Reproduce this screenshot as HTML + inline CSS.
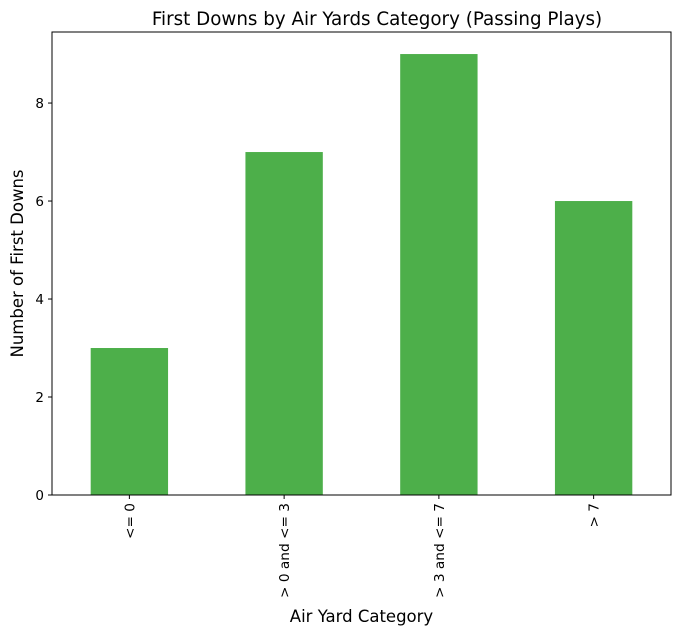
<!DOCTYPE html>
<html><head><meta charset="utf-8"><style>
body{margin:0;background:#fff;font-family:"DejaVu Sans","Liberation Sans",sans-serif}
</style></head><body>
<svg id="chart" width="682" height="634" xmlns="http://www.w3.org/2000/svg" font-family="DejaVu Sans, Liberation Sans, sans-serif"></svg>
<script>
const categories = ["<= 0", "> 0 and <= 3", "> 3 and <= 7", "> 7"];
const firstDowns = [3, 7, 9, 6];
const yTicks = [0, 2, 4, 6, 8];

const svg = document.getElementById('chart');
const NS = 'http://www.w3.org/2000/svg';
const L = 52, R = 671, T = 32, B = 495;
const yMax = 9.45;
const y = v => B - v / yMax * (B - T);
const step = (R - L) / categories.length;
const x = i => L + step * (i + 0.5);
function mk(tag, attrs, text) {
  const e = document.createElementNS(NS, tag);
  for (const k in attrs) e.setAttribute(k, attrs[k]);
  if (text !== undefined) e.textContent = text;
  svg.appendChild(e);
  return e;
}
let t = mk('text', {x: 377, y: 25, 'text-anchor': 'middle', 'font-size': 18.3, fill: '#000'}, 'First Downs by Air Yards Category (Passing Plays)');



firstDowns.forEach((v, i) => {
  const w = step * 0.5;
  const r = mk('rect', {x: x(i) - w / 2, y: y(v), width: w, height: B - y(v), fill: '#4daf4a'});
  
  
  mk('line', {x1: x(i), x2: x(i), y1: B, y2: B + 4, stroke: '#000', 'stroke-width': 1});
  const lb = mk('text', {x: 0, y: 0, 'text-anchor': 'end', 'font-size': 13.7, fill: '#000',
    transform: `translate(${x(i) + 5},${B + 8}) rotate(-90)`}, categories[i]);
  
  
});
yTicks.forEach(v => {
  mk('line', {x1: L - 4, x2: L, y1: y(v), y2: y(v), stroke: '#000', 'stroke-width': 1});
  const lb = mk('text', {x: L - 8, y: y(v) + 5, 'text-anchor': 'end', 'font-size': 13.5, fill: '#000'}, v);
  
  
});
const frame = mk('rect', {x: L, y: T, width: R - L, height: B - T, fill: 'none', stroke: '#000', 'stroke-width': 1});


const xt = mk('text', {x: (L + R) / 2, y: 622, 'text-anchor': 'middle', 'font-size': 16.5, fill: '#000'}, 'Air Yard Category');


const yt = mk('text', {x: 0, y: 0, 'text-anchor': 'middle', 'font-size': 16.5, fill: '#000',
  transform: `translate(23,${(T + B) / 2}) rotate(-90)`}, 'Number of First Downs');


</script>
</body></html>
